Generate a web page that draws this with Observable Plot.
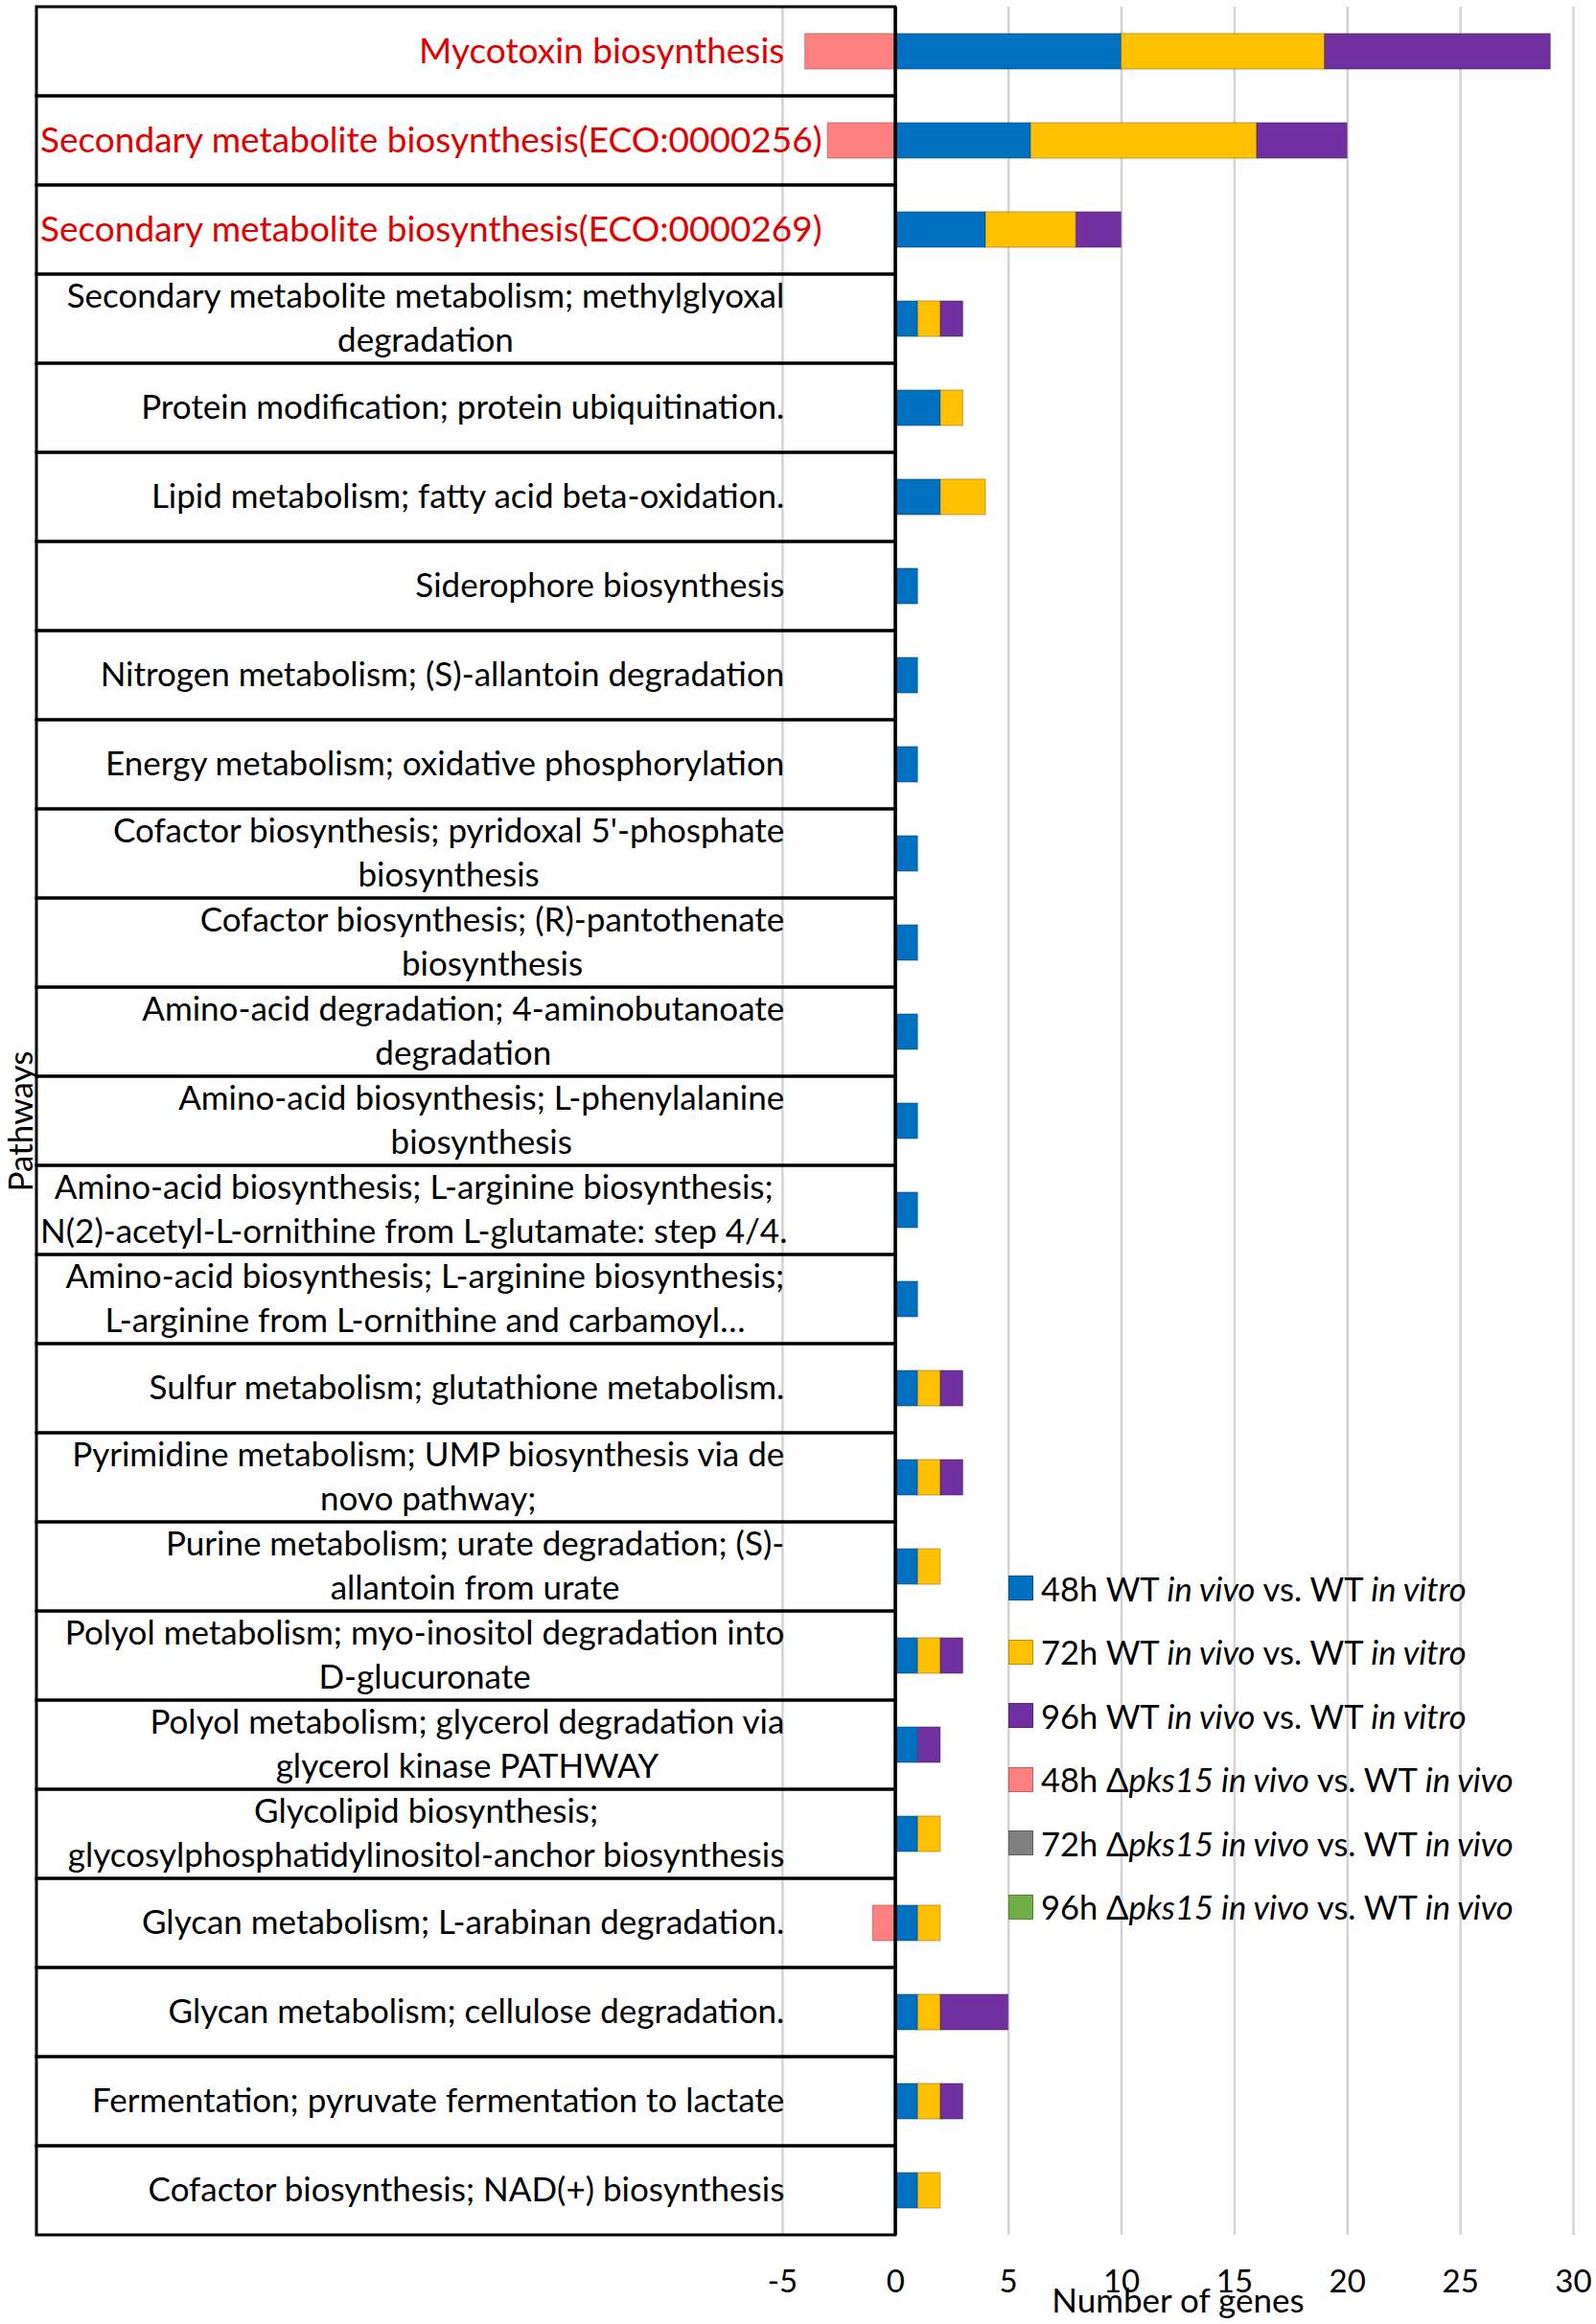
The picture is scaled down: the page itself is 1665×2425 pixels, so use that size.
<!DOCTYPE html>
<html>
<head>
<meta charset="utf-8">
<script src="https://cdn.jsdelivr.net/npm/d3@7"></script>
<script src="https://cdn.jsdelivr.net/npm/@observablehq/plot@0.6"></script>
<style>
  body { margin: 0; background: #fff; }
  #wrap { position: relative; width: 1665px; height: 2425px; font-family: Lato, "Open Sans", sans-serif; color: #000; }
  #wrap svg { position: absolute; left: 0; top: 0; }
  #legend { position: absolute; left: 1052px; top: 1624px; }
  .lrow { display: flex; align-items: center; height: 66.5px; font-size: 34.5px; white-space: nowrap; }
  .sw { width: 26px; height: 26px; margin-right: 8px; box-sizing: border-box; border: 1px solid rgba(0,0,0,0.25); }
</style>
</head>
<body>
<div id="wrap"><div id="legend"></div></div>
<script>
// ---------------- data ----------------
const pathways = [
  "Mycotoxin biosynthesis",
  "Secondary metabolite biosynthesis(ECO:0000256)",
  "Secondary metabolite biosynthesis(ECO:0000269)",
  "Secondary metabolite metabolism; methylglyoxal\ndegradation",
  "Protein modification; protein ubiquitination.",
  "Lipid metabolism; fatty acid beta-oxidation.",
  "Siderophore biosynthesis",
  "Nitrogen metabolism; (S)-allantoin degradation",
  "Energy metabolism; oxidative phosphorylation",
  "Cofactor biosynthesis; pyridoxal 5'-phosphate\nbiosynthesis",
  "Cofactor biosynthesis; (R)-pantothenate\nbiosynthesis",
  "Amino-acid degradation; 4-aminobutanoate\ndegradation",
  "Amino-acid biosynthesis; L-phenylalanine\nbiosynthesis",
  "Amino-acid biosynthesis; L-arginine biosynthesis;\nN(2)-acetyl-L-ornithine from L-glutamate: step 4/4.",
  "Amino-acid biosynthesis; L-arginine biosynthesis;\nL-arginine from L-ornithine and carbamoyl…",
  "Sulfur metabolism; glutathione metabolism.",
  "Pyrimidine metabolism; UMP biosynthesis via de\nnovo pathway;",
  "Purine metabolism; urate degradation; (S)-\nallantoin from urate",
  "Polyol metabolism; myo-inositol degradation into\nD-glucuronate",
  "Polyol metabolism; glycerol degradation via\nglycerol kinase PATHWAY",
  "Glycolipid biosynthesis;\nglycosylphosphatidylinositol-anchor biosynthesis",
  "Glycan metabolism; L-arabinan degradation.",
  "Glycan metabolism; cellulose degradation.",
  "Fermentation; pyruvate fermentation to lactate",
  "Cofactor biosynthesis; NAD(+) biosynthesis"
];
// highlighted (red) pathways
const highlighted = [
  "Mycotoxin biosynthesis",
  "Secondary metabolite biosynthesis(ECO:0000256)",
  "Secondary metabolite biosynthesis(ECO:0000269)"
];

const series = [
  "48h WT <i>in vivo</i> vs. WT <i>in vitro</i>",
  "72h WT <i>in vivo</i> vs. WT <i>in vitro</i>",
  "96h WT <i>in vivo</i> vs. WT <i>in vitro</i>",
  "48h Δ<i>pks15 in vivo</i> vs. WT <i>in vivo</i>",
  "72h Δ<i>pks15 in vivo</i> vs. WT <i>in vivo</i>",
  "96h Δ<i>pks15 in vivo</i> vs. WT <i>in vivo</i>"
];
const seriesColors = ["#0070C0", "#FFC000", "#7030A0", "#FF8080", "#808080", "#70AD47"];

const wt48   = [10, 6, 4, 1, 2, 2, 1, 1, 1, 1, 1, 1, 1, 1, 1, 1, 1, 1, 1, 1, 1, 1, 1, 1, 1];
const wt72   = [ 9,10, 4, 1, 1, 2, 0, 0, 0, 0, 0, 0, 0, 0, 0, 1, 1, 1, 1, 0, 1, 1, 1, 1, 1];
const wt96   = [10, 4, 2, 1, 0, 0, 0, 0, 0, 0, 0, 0, 0, 0, 0, 1, 1, 0, 1, 1, 0, 0, 3, 1, 0];
const pks48  = [-4,-3, 0, 0, 0, 0, 0, 0, 0, 0, 0, 0, 0, 0, 0, 0, 0, 0, 0, 0, 0,-1, 0, 0, 0];
const pks72  = [ 0, 0, 0, 0, 0, 0, 0, 0, 0, 0, 0, 0, 0, 0, 0, 0, 0, 0, 0, 0, 0, 0, 0, 0, 0];
const pks96  = [ 0, 0, 0, 0, 0, 0, 0, 0, 0, 0, 0, 0, 0, 0, 0, 0, 0, 0, 0, 0, 0, 0, 0, 0, 0];
const seriesValues = [wt48, wt72, wt96, pks48, pks72, pks96];

const xTicks = [-5, 0, 5, 10, 15, 20, 25, 30];
const xLabel = "Number of genes";
const yLabel = "Pathways";

// ---------------- layout ----------------
const W = 1665, H = 2425;
const marginLeft = 38, marginRight = 24, marginTop = 7, marginBottom = 93;
const xMin = -38, xMax = 30;      // left part of the x range hosts the label table
const labelX = -4.9;              // right edge of the label text
const font = 'Lato, "Open Sans", sans-serif';

const rows = [];
pathways.forEach((p, i) => series.forEach((s, j) => {
  const v = seriesValues[j][i];
  if (v !== 0) rows.push({pathway: p, series: s, value: v});
}));

const step = (H - marginTop - marginBottom) / pathways.length;
const barInset = step * 0.3;

const plot = Plot.plot({
  width: W, height: H,
  marginLeft, marginRight, marginTop, marginBottom,
  x: {domain: [xMin, xMax], axis: null},
  y: {domain: pathways, padding: 0, axis: null},
  color: {domain: series, range: seriesColors},
  style: {fontFamily: font, background: "white", color: "#000"},
  marks: [
    Plot.ruleX(xTicks.filter(t => t !== 0), {stroke: "#d3d3d3", strokeWidth: 2.5}),
    Plot.barX(rows, {
      x: "value", y: "pathway", fill: "series",
      stroke: "#000", strokeOpacity: 0.22, strokeWidth: 1.2,
      insetTop: barInset, insetBottom: barInset
    }),
    Plot.barX(pathways, {x1: xMin, x2: 0, y: d => d, fill: "none", stroke: "#000", strokeWidth: 3}),
    Plot.ruleX([0], {stroke: "#000", strokeWidth: 3}),
    Plot.text(pathways, {
      x: labelX, y: d => d, text: d => d,
      textAnchor: "middle", lineAnchor: "middle", lineHeight: 1.32, dy: -4,
      fontSize: d => highlighted.includes(d) ? 37 : 35,
      fill: d => highlighted.includes(d) ? "#E00000" : "#000"
    }),
    Plot.axisX(xTicks, {tickSize: 0, tickPadding: 36, fontSize: 33, tickFormat: d => String(d), label: null}),
    Plot.text([xLabel], {x: 12.5, frameAnchor: "bottom", lineAnchor: "bottom", dy: 80, fontSize: 35}),
    Plot.text([yLabel], {frameAnchor: "left", textAnchor: "middle", rotate: -90, lineAnchor: "bottom", dx: -5, fontSize: 35})
  ]
});

const wrap = document.getElementById("wrap");
wrap.insertBefore(plot, wrap.firstChild);

// right-align each label block (lines centred within the block); long ones start at the table's left edge
function alignLabels() {
  const xs = plot.scale("x");
  const rightPx = xs.apply(labelX);
  const leftPx = xs.apply(xMin) + 4;
  const svgRect = plot.getBoundingClientRect();
  const g = plot.querySelector('g[aria-label="text"]');
  for (const t of g.querySelectorAll("text")) {
    const base = t.getAttribute("data-base") ?? (t.getAttribute("transform") || "");
    t.setAttribute("data-base", base);
    t.setAttribute("transform", base);
    const r = t.getBoundingClientRect();
    const left = r.left - svgRect.left, right = r.right - svgRect.left;
    const shift = (right - left > rightPx - leftPx) ? leftPx - left : rightPx - right;
    t.setAttribute("transform", `translate(${shift},0) ` + base);
  }
}
alignLabels();
if (document.fonts && document.fonts.ready) document.fonts.ready.then(alignLabels);

// legend
const legend = document.getElementById("legend");
series.forEach((s, i) => {
  const row = document.createElement("div");
  row.className = "lrow";
  row.innerHTML = `<span class="sw" style="background:${seriesColors[i]}"></span><span>${s}</span>`;
  legend.appendChild(row);
});
</script>
</body>
</html>
